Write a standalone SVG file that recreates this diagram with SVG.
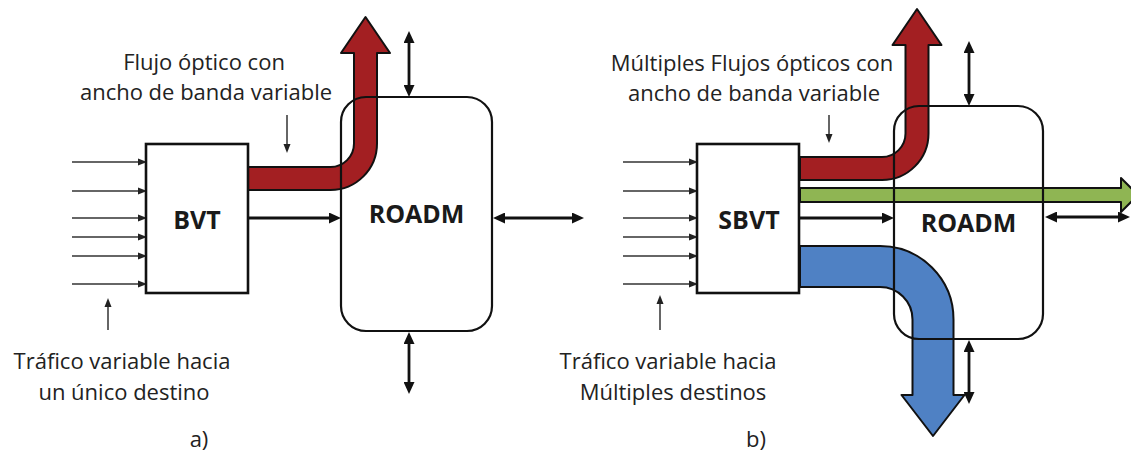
<svg xmlns="http://www.w3.org/2000/svg" width="1131" height="463" viewBox="0 0 1131 463">
<defs>
<style>
.lbl{font-family:"Open Sans","Liberation Sans",sans-serif;font-size:22px;fill:#222;text-anchor:middle}
.bold{font-family:"Open Sans","Liberation Sans",sans-serif;font-size:25px;font-weight:bold;fill:#1a1a1a;text-anchor:middle}
.box{fill:#fff;stroke:#111;stroke-width:2.6}
.roadm{fill:none;stroke:#111;stroke-width:2.2}
.thin{stroke:#333;stroke-width:1.5;fill:none;marker-end:url(#ht)}
.thick{stroke:#111;stroke-width:2.8;fill:none;marker-end:url(#hk)}
.dbl{stroke:#111;stroke-width:2.8;fill:none;marker-end:url(#hk);marker-start:url(#hk)}
.big{stroke:#111;stroke-width:2;stroke-linejoin:round}
</style>
<marker id="ht" markerUnits="userSpaceOnUse" markerWidth="9" markerHeight="8" viewBox="0 0 9 8" refX="4" refY="4" orient="auto-start-reverse"><path d="M0,0.5 L9,4 L0,7.5 Z" fill="#222"/></marker>
<marker id="hk" markerUnits="userSpaceOnUse" markerWidth="12" markerHeight="11" viewBox="0 0 12 11" refX="5" refY="5.5" orient="auto-start-reverse"><path d="M0,0 L12,5.5 L0,11 Z" fill="#111"/></marker>
</defs>
<rect width="1131" height="463" fill="#fff"/>

<g id="connectors">
  <!-- panel a inputs -->
  <line class="thin" x1="72" y1="162" x2="142" y2="162"/>
  <line class="thin" x1="72" y1="191" x2="142" y2="191"/>
  <line class="thin" x1="72" y1="218" x2="142" y2="218"/>
  <line class="thin" x1="72" y1="237" x2="142" y2="237"/>
  <line class="thin" x1="72" y1="256" x2="142" y2="256"/>
  <line class="thin" x1="72" y1="284" x2="142" y2="284"/>
  <line class="thin" x1="108" y1="330" x2="108" y2="303"/>
  <line class="thin" x1="287" y1="115" x2="287" y2="148"/>
  <!-- panel b inputs -->
  <line class="thin" x1="623" y1="162" x2="693" y2="162"/>
  <line class="thin" x1="623" y1="191" x2="693" y2="191"/>
  <line class="thin" x1="623" y1="218" x2="693" y2="218"/>
  <line class="thin" x1="623" y1="237" x2="693" y2="237"/>
  <line class="thin" x1="623" y1="256" x2="693" y2="256"/>
  <line class="thin" x1="623" y1="284" x2="693" y2="284"/>
  <line class="thin" x1="660" y1="330" x2="660" y2="300"/>
  <line class="thin" x1="829" y1="115" x2="829" y2="138"/>

  <!-- panel a thick -->
  <line class="thick" x1="248" y1="218" x2="334" y2="218"/>
  <line class="dbl" x1="500" y1="218" x2="577" y2="218"/>
  <line class="dbl" x1="409" y1="38" x2="409" y2="90"/>
  <line class="dbl" x1="409" y1="339" x2="409" y2="387"/>
  <!-- panel b thick -->
  <line class="thick" x1="800" y1="218" x2="887" y2="218"/>
  <line class="dbl" x1="1052" y1="217" x2="1123" y2="217"/>
  <line class="dbl" x1="969" y1="48" x2="969" y2="99"/>
  <line class="dbl" x1="969" y1="347" x2="969" y2="397"/>

  <!-- big flow arrows -->
  <path class="big" fill="#a31f22" d="M248,167 H330.5 A23.5,23.5 0 0 0 354,143.5 V53 H341 L365.5,17 L390,53 H377 V143.5 A46.5,46.5 0 0 1 330.5,190 H248 Z"/>
  <path class="big" fill="#a31f22" d="M800,157 H882 A23.5,23.5 0 0 0 905.5,133.5 V45 H892.5 L917,9 L941.5,45 H928.5 V133.5 A46.5,46.5 0 0 1 882,180 H800 Z"/>
  <path class="big" fill="#8fb553" d="M800,188 H1121 V178 L1138,195 L1121,212 V202 H800 Z"/>
  <path class="big" fill="#4f81c4" d="M800,246 H880 A73.5,73.5 0 0 1 953.5,319.5 V395 H964.5 L933,436 L901.5,395 H912.5 V319.5 A32.5,32.5 0 0 0 880,287 H800 Z"/>
</g>

<g id="bvt">
  <rect class="box" x="146" y="144" width="102" height="149"/>
  <text class="bold" x="197" y="229">BVT</text>
</g>
<g id="roadm-a">
  <rect class="roadm" x="341" y="97" width="151" height="234" rx="25"/>
  <text class="bold" x="416.5" y="223">ROADM</text>
</g>
<g id="sbvt">
  <rect class="box" x="697" y="144" width="102" height="149"/>
  <text class="bold" x="749" y="229">SBVT</text>
</g>
<g id="roadm-b">
  <rect class="roadm" x="894" y="106" width="149" height="233" rx="25"/>
  <text class="bold" x="968.5" y="232">ROADM</text>
</g>

<g id="labels">
  <text class="lbl" x="204" y="70">Flujo óptico con</text>
  <text class="lbl" x="206" y="100">ancho de banda variable</text>
  <text class="lbl" x="122" y="369">Tráfico variable hacia</text>
  <text class="lbl" x="124" y="400">un único destino</text>
  <text class="lbl" x="199" y="447">a)</text>
  <text class="lbl" x="752" y="71">Múltiples Flujos ópticos con</text>
  <text class="lbl" x="754" y="101">ancho de banda variable</text>
  <text class="lbl" x="668" y="369">Tráfico variable hacia</text>
  <text class="lbl" x="673" y="400">Múltiples destinos</text>
  <text class="lbl" x="756" y="447">b)</text>
</g>
</svg>
